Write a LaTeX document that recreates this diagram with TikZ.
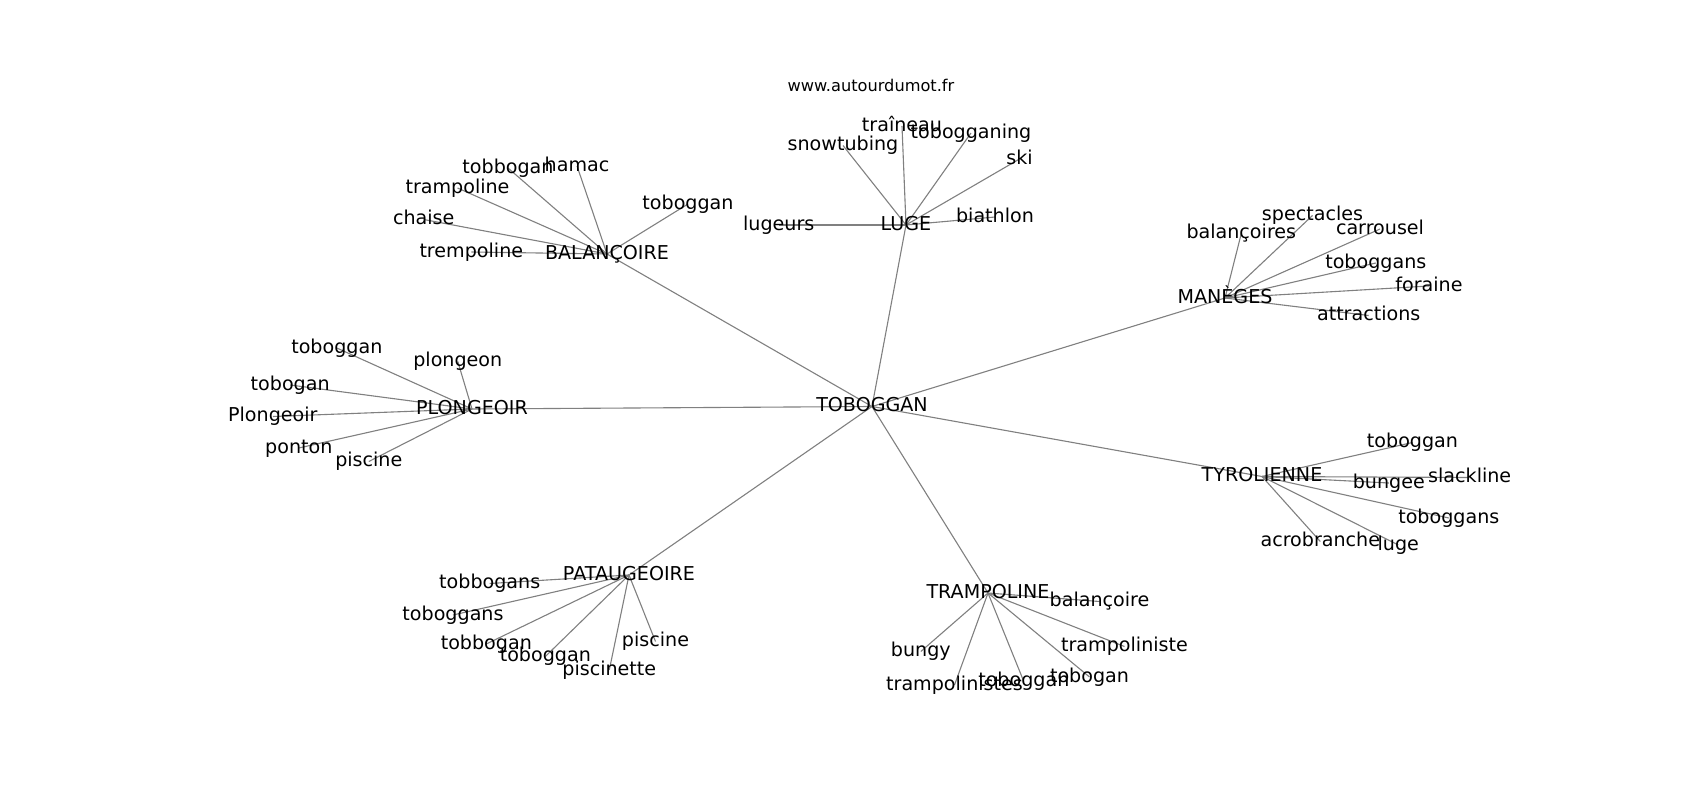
\documentclass[tikz,border=0pt]{standalone}
\usepackage{fontspec}
\setmainfont{DejaVu Sans}
\usetikzlibrary{backgrounds}

\begin{document}
\begin{tikzpicture}[
        x=0.01in, y=-0.01in,
        word/.style={inner sep=0pt,text height=10.5pt,text depth=2.9pt,
            font=\fontsize{13.8}{16}\selectfont},
        site/.style={inner sep=0pt,font=\fontsize{11.7}{14}\selectfont},
        link/.style={draw=gray,line width=0.8pt}
    ]

    \useasboundingbox (0,-2) rectangle (1700,798);

    \node[site] (site) at (871,83) {www.autourdumot.fr};

    \node[word] (toboggan) at (872,404.5) {TOBOGGAN};

    \node[word] (balancoire) at (607,252) {BALANÇOIRE};
    \node[word] (bal-tobbogan) at (508,166) {tobbogan};
    \node[word] (bal-hamac) at (577,164) {hamac};
    \node[word] (bal-trampoline) at (457.5,186) {trampoline};
    \node[word] (bal-toboggan) at (688,202) {toboggan};
    \node[word] (bal-chaise) at (423.7,217.5) {chaise};
    \node[word] (bal-trempoline) at (471.3,250) {trempoline};

    \node[word] (luge) at (906,223) {LUGE};
    \node[word] (luge-lugeurs) at (778.7,223) {lugeurs};
    \node[word] (luge-snowtubing) at (843,143.5) {snowtubing};
    \node[word] (luge-traineau) at (902,124) {traîneau};
    \node[word] (luge-tobogganing) at (971,131) {tobogganing};
    \node[word] (luge-ski) at (1019.5,157) {ski};
    \node[word] (luge-biathlon) at (995,215) {biathlon};

    \node[word] (maneges) at (1225,296) {MANÈGES};
    \node[word] (man-balancoires) at (1241.3,231.5) {balançoires};
    \node[word] (man-spectacles) at (1312.5,213.5) {spectacles};
    \node[word] (man-carrousel) at (1380,227) {carrousel};
    \node[word] (man-toboggans) at (1375.8,261) {toboggans};
    \node[word] (man-foraine) at (1429,284) {foraine};
    \node[word] (man-attractions) at (1368.7,313.5) {attractions};

    \node[word] (plongeoir) at (472,407) {PLONGEOIR};
    \node[word] (plo-toboggan) at (336.8,346) {toboggan};
    \node[word] (plo-plongeon) at (457.8,359.5) {plongeon};
    \node[word] (plo-tobogan) at (290.2,383) {tobogan};
    \node[word] (plo-plongeoir) at (272.8,414.5) {Plongeoir};
    \node[word] (plo-ponton) at (298.8,446) {ponton};
    \node[word] (plo-piscine) at (368.8,459.5) {piscine};

    \node[word] (tyrolienne) at (1262,474.5) {TYROLIENNE};
    \node[word] (tyr-toboggan) at (1412.5,440.5) {toboggan};
    \node[word] (tyr-slackline) at (1469.7,475.5) {slackline};
    \node[word] (tyr-bungee) at (1388.8,481) {bungee};
    \node[word] (tyr-toboggans) at (1448.8,516) {toboggans};
    \node[word] (tyr-acrobranche) at (1320.3,539.5) {acrobranche};
    \node[word] (tyr-luge) at (1398.3,543) {luge};

    \node[word] (pataugeoire) at (629,573) {PATAUGEOIRE};
    \node[word] (pat-tobbogans) at (489.7,581.5) {tobbogans};
    \node[word] (pat-toboggans) at (453,613) {toboggans};
    \node[word] (pat-tobbogan) at (486.3,642) {tobbogan};
    \node[word] (pat-toboggan) at (545.3,654.5) {toboggan};
    \node[word] (pat-piscine) at (655.5,639.5) {piscine};
    \node[word] (pat-piscinette) at (609.3,668) {piscinette};

    \node[word] (trampoline) at (988,591) {TRAMPOLINE};
    \node[word] (tra-balancoire) at (1099.5,599.5) {balançoire};
    \node[word] (tra-bungy) at (920.8,649.5) {bungy};
    \node[word] (tra-trampoliniste) at (1124.5,644.5) {trampoliniste};
    \node[word] (tra-trampolinistes) at (954.5,683) {trampolinistes};
    \node[word] (tra-toboggan) at (1023.8,679.5) {toboggan};
    \node[word] (tra-tobogan) at (1089.5,675) {tobogan};

    \begin{scope}[on background layer]
    \draw[link] (toboggan.center) -- (balancoire.center);
    \draw[link] (toboggan.center) -- (luge.center);
    \draw[link] (toboggan.center) -- (maneges.center);
    \draw[link] (toboggan.center) -- (plongeoir.center);
    \draw[link] (toboggan.center) -- (tyrolienne.center);
    \draw[link] (toboggan.center) -- (pataugeoire.center);
    \draw[link] (toboggan.center) -- (trampoline.center);

    \draw[link] (balancoire.center) -- (bal-tobbogan.center);
    \draw[link] (balancoire.center) -- (bal-hamac.center);
    \draw[link] (balancoire.center) -- (bal-trampoline.center);
    \draw[link] (balancoire.center) -- (bal-toboggan.center);
    \draw[link] (balancoire.center) -- (bal-chaise.center);
    \draw[link] (balancoire.center) -- (bal-trempoline.center);

    \draw[link] (luge.center) -- (luge-lugeurs.center);
    \draw[link] (luge.center) -- (luge-snowtubing.center);
    \draw[link] (luge.center) -- (luge-traineau.center);
    \draw[link] (luge.center) -- (luge-tobogganing.center);
    \draw[link] (luge.center) -- (luge-ski.center);
    \draw[link] (luge.center) -- (luge-biathlon.center);

    \draw[link] (maneges.center) -- (man-balancoires.center);
    \draw[link] (maneges.center) -- (man-spectacles.center);
    \draw[link] (maneges.center) -- (man-carrousel.center);
    \draw[link] (maneges.center) -- (man-toboggans.center);
    \draw[link] (maneges.center) -- (man-foraine.center);
    \draw[link] (maneges.center) -- (man-attractions.center);

    \draw[link] (plongeoir.center) -- (plo-toboggan.center);
    \draw[link] (plongeoir.center) -- (plo-plongeon.center);
    \draw[link] (plongeoir.center) -- (plo-tobogan.center);
    \draw[link] (plongeoir.center) -- (plo-plongeoir.center);
    \draw[link] (plongeoir.center) -- (plo-ponton.center);
    \draw[link] (plongeoir.center) -- (plo-piscine.center);

    \draw[link] (tyrolienne.center) -- (tyr-toboggan.center);
    \draw[link] (tyrolienne.center) -- (tyr-slackline.center);
    \draw[link] (tyrolienne.center) -- (tyr-bungee.center);
    \draw[link] (tyrolienne.center) -- (tyr-toboggans.center);
    \draw[link] (tyrolienne.center) -- (tyr-acrobranche.center);
    \draw[link] (tyrolienne.center) -- (tyr-luge.center);

    \draw[link] (pataugeoire.center) -- (pat-tobbogans.center);
    \draw[link] (pataugeoire.center) -- (pat-toboggans.center);
    \draw[link] (pataugeoire.center) -- (pat-tobbogan.center);
    \draw[link] (pataugeoire.center) -- (pat-toboggan.center);
    \draw[link] (pataugeoire.center) -- (pat-piscine.center);
    \draw[link] (pataugeoire.center) -- (pat-piscinette.center);

    \draw[link] (trampoline.center) -- (tra-balancoire.center);
    \draw[link] (trampoline.center) -- (tra-bungy.center);
    \draw[link] (trampoline.center) -- (tra-trampoliniste.center);
    \draw[link] (trampoline.center) -- (tra-trampolinistes.center);
    \draw[link] (trampoline.center) -- (tra-toboggan.center);
    \draw[link] (trampoline.center) -- (tra-tobogan.center);
    \end{scope}

    \end{tikzpicture}
\end{document}
